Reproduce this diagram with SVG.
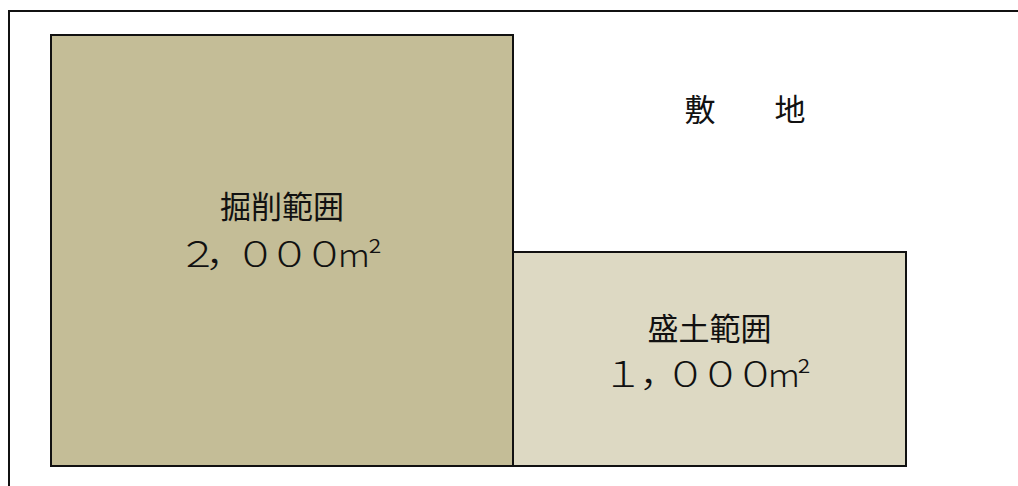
<svg xmlns="http://www.w3.org/2000/svg" width="1018" height="486" viewBox="0 0 1018 486">
<style>
.frame{fill:#ffffff;stroke:#111111;stroke-width:2}
.area{stroke:#111111;stroke-width:2}
.cut{fill:#c4bd97}
.fill{fill:#ddd9c3}
text{font-family:"Noto Sans CJK JP","Noto Sans CJK SC",sans-serif;fill:#111111;text-anchor:middle}
.lbl{font-size:31px}
.num{font-size:36px;font-weight:300}
.unit{font-size:31px}
</style>
<rect width="1018" height="486" fill="#ffffff"/>
<g id="site">
<rect class="frame" x="9" y="11" width="1020" height="490"/>
<text class="lbl" x="700" y="121">敷</text>
<text class="lbl" x="790" y="121">地</text>
</g>
<g id="excavation">
<rect class="area cut" x="51" y="35" width="462" height="431"/>
<text class="lbl" x="282" y="218">掘削範囲</text>
<g transform="translate(0,267) scale(1.15,1)">
<text class="num" x="172.2 196.5 222.2 251.7 282.2" y="0">２，０００<tspan class="unit" x="307.8 326.1">m²</tspan></text>
</g>
</g>
<g id="embankment">
<rect class="area fill" x="513" y="252" width="393" height="214"/>
<text class="lbl" x="709.5" y="340">盛土範囲</text>
<g transform="translate(0,387) scale(1.15,1)">
<text class="num" x="541.7 573.9 596.1 626.5 657.0" y="0">１，０００<tspan class="unit" x="681.7 699.1">m²</tspan></text>
</g>
</g>
<g id="connectors"/>
</svg>
